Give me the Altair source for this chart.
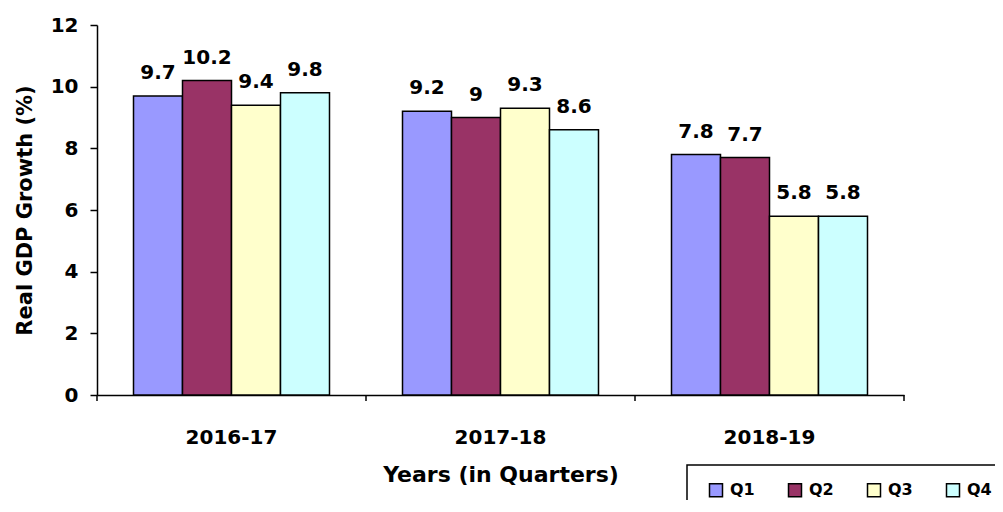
import altair as alt
import pandas as pd

years = ["2016-17", "2017-18", "2018-19"]
quarters = ["Q1", "Q2", "Q3", "Q4"]
q1 = [9.7, 9.2, 7.8]
q2 = [10.2, 9.0, 7.7]
q3 = [9.4, 9.3, 5.8]
q4 = [9.8, 8.6, 5.8]
colors = ["#9999FF", "#993366", "#FFFFCC", "#CCFFFF"]
y_ticks = [0, 2, 4, 6, 8, 10, 12]

rows = []
for qi, (q, vals) in enumerate(zip(quarters, [q1, q2, q3, q4])):
    for y, v in zip(years, vals):
        rows.append({"year": y, "quarter": q, "value": v, "label": f"{v:g}"})
df = pd.DataFrame(rows)
grp = pd.DataFrame({"year": years})
last = pd.DataFrame({"year": years[-1:]})

FONT = "DejaVu Sans"

x_enc = alt.X(
    "year:N",
    sort=years,
    scale=alt.Scale(paddingInner=0, paddingOuter=0),
    axis=alt.Axis(
        title="Years (in Quarters)",
        labelAngle=0,
        ticks=False,
        tickSize=0,
        labelPadding=32,
        labelFont=FONT,
        labelFontSize=20,
        labelFontWeight="bold",
        labelColor="black",
        titleFont=FONT,
        titleFontSize=22,
        titleFontWeight="bold",
        titleColor="black",
        titleBaseline="alphabetic",
        titleY=86,
        domainColor="black",
        domainWidth=1.5,
    ),
)
xoff = alt.XOffset("quarter:N", sort=quarters,
                   scale=alt.Scale(paddingInner=0, paddingOuter=0.745))
y_enc = alt.Y(
    "value:Q",
    scale=alt.Scale(domain=[0, 12], nice=False),
    axis=alt.Axis(
        title="Real GDP Growth (%)",
        values=y_ticks,
        grid=False,
        tickSize=7,
        tickColor="black",
        tickWidth=1.5,
        labelPadding=12,
        labelFont=FONT,
        labelFontSize=20,
        labelFontWeight="bold",
        labelColor="black",
        titleFont=FONT,
        titleFontSize=21,
        titleFontWeight="bold",
        titleColor="black",
        titleBaseline="alphabetic",
        titleX=-66,
        domainColor="black",
        domainWidth=1.5,
    ),
)

bars = alt.Chart(df).mark_bar(stroke="black", strokeWidth=1.5).encode(
    x=x_enc,
    xOffset=xoff,
    y=y_enc,
    fill=alt.Fill(
        "quarter:N",
        sort=quarters,
        scale=alt.Scale(domain=quarters, range=colors),
        legend=alt.Legend(
            title=None,
            orient="none",
            legendX=590,
            legendY=440,
            direction="horizontal",
            strokeColor="black",
            padding=17,
            symbolOffset=4,
            symbolType="square",
            symbolSize=169,
            symbolStrokeColor="black",
            symbolStrokeWidth=1.5,
            labelFont=FONT,
            labelFontSize=16,
            labelFontWeight="bold",
            labelColor="black",
            labelOffset=6,
            columnPadding=28,
        ),
    ),
)

labels = alt.Chart(df).mark_text(
    font=FONT, fontSize=20, fontWeight="bold", color="black",
    baseline="alphabetic", dy=-17,
).encode(
    x=alt.X("year:N", sort=years),
    xOffset=alt.XOffset("quarter:N", sort=quarters),
    y=alt.Y("value:Q"),
    text="label:N",
)

ticks = alt.Chart(grp).mark_rule(color="black", strokeWidth=1.5).encode(
    x=alt.X("year:N", sort=years, bandPosition=0),
    y=alt.value(370),
    y2=alt.value(376),
)
end_tick = alt.Chart(last).mark_rule(color="black", strokeWidth=1.5).encode(
    x=alt.X("year:N", sort=years, bandPosition=1),
    y=alt.value(370),
    y2=alt.value(376),
)

chart = alt.layer(bars, labels, ticks, end_tick).properties(
    width=807,
    height=370,
    background="white",
    autosize=alt.AutoSizeParams(type="none"),
    padding={"left": 89, "top": 17, "right": 91, "bottom": 105},
).configure_legend(strokeWidth=1.5).configure_view(strokeWidth=0, stroke=None)

chart.save("out.html", embed_options={"renderer": "svg", "actions": False})
